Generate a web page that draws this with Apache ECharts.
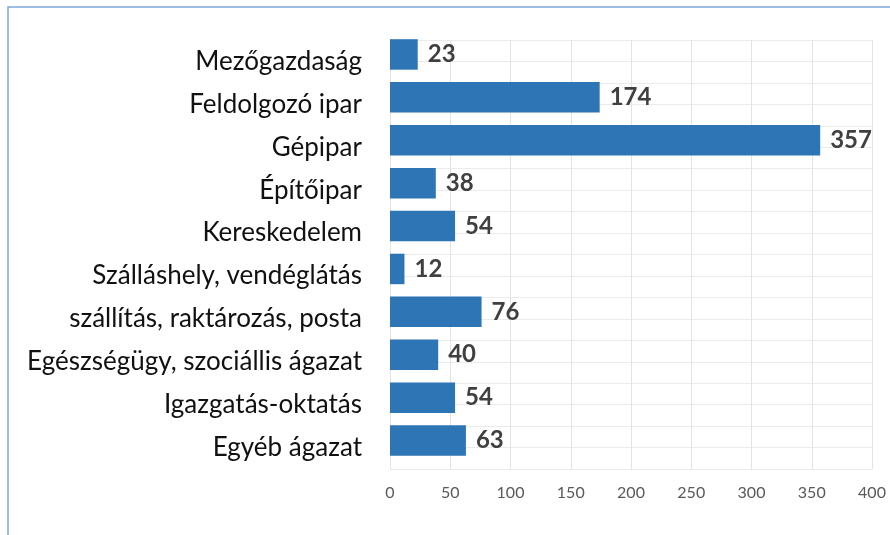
<!DOCTYPE html>
<html>
<head>
    <meta charset="utf-8"/>
    <script src="https://cdn.jsdelivr.net/npm/echarts@6/dist/echarts.min.js"></script>
    <style>
        html, body { margin: 0; padding: 0; background: #fff; }
        #main { width: 890px; height: 535px; }
    </style>
</head>
<body>
<div id="main"></div>
<script>
    // data, top to bottom as in the picture
    var categories = ['Mezőgazdaság', 'Feldolgozó ipar', 'Gépipar', 'Építőipar', 'Kereskedelem',
        'Szálláshely, vendéglátás', 'szállítás, raktározás, posta', 'Egészségügy, szociállis ágazat',
        'Igazgatás-oktatás', 'Egyéb ágazat'];
    var values = [23, 174, 357, 38, 54, 12, 76, 40, 54, 63];

    // half-band slots, only used to draw the horizontal grid lines
    var gridSlots = new Array(categories.length * 2).fill('');

    var chart = echarts.init(document.getElementById('main'));
    var option = {
        animation: false,
        textStyle: { fontFamily: 'Lato, "Noto Sans", sans-serif' },
        graphic: [{
            type: 'polyline',
            shape: { points: [[8, 535], [8, 7], [890, 7]] },
            style: { stroke: '#7ea6d8', lineWidth: 1.5, fill: null }
        }],
        grid: [
            { left: 390, right: 18, top: 40, bottom: 66 },
            // bars sit in the upper part of each band, so they get a grid shifted up
            { left: 390, right: 18, top: 33, bottom: 73 }
        ],
        xAxis: [{
            type: 'value',
            gridIndex: 0,
            min: 0, max: 400, interval: 50,
            axisLine: { show: false },
            axisTick: { show: false },
            axisLabel: { color: '#595959', fontSize: 16, margin: 16 },
            splitLine: { lineStyle: { color: '#e3e3e3', width: 1 } }
        }, {
            type: 'value',
            gridIndex: 1,
            min: 0, max: 400, interval: 50,
            show: false
        }],
        yAxis: [{
            type: 'category',
            gridIndex: 0,
            data: categories,
            inverse: true,
            axisLine: { show: false },
            axisTick: { show: false },
            axisLabel: { color: '#111111', fontSize: 26, margin: 28 },
            splitLine: { show: false }
        }, {
            type: 'category',
            gridIndex: 0,
            data: gridSlots,
            inverse: true,
            position: 'left',
            axisLine: { show: false },
            axisTick: { show: false },
            axisLabel: { show: false },
            splitLine: { show: true, lineStyle: { color: '#ebebeb', width: 1 } }
        }, {
            type: 'category',
            gridIndex: 1,
            data: categories,
            inverse: true,
            show: false
        }],
        series: [{
            type: 'bar',
            xAxisIndex: 1,
            yAxisIndex: 2,
            data: values,
            barWidth: 30.5,
            itemStyle: { color: '#2e75b6' },
            label: {
                show: true,
                position: 'right',
                distance: 10,
                color: '#404040',
                fontSize: 24,
                fontWeight: 'bold'
            }
        }]
    };
    chart.setOption(option);
</script>
</body>
</html>
